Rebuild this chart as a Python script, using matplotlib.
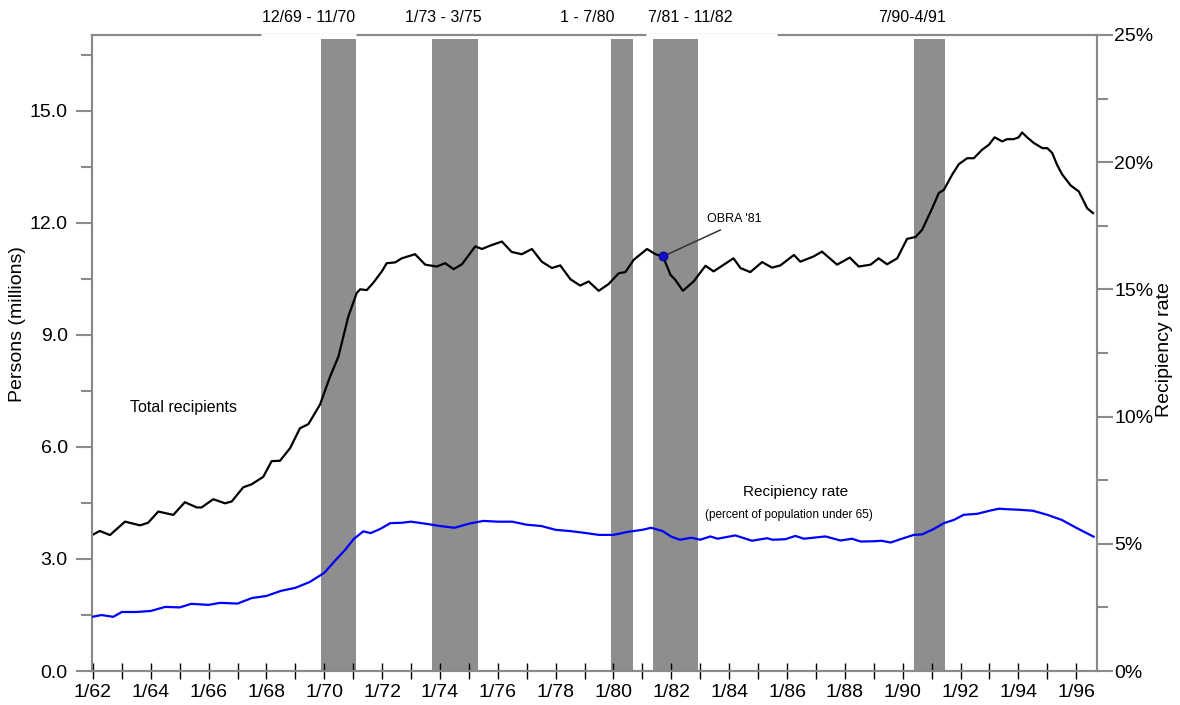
import numpy as np
import matplotlib
matplotlib.use("Agg")
import matplotlib.pyplot as plt
from matplotlib.ticker import MultipleLocator, FuncFormatter

plt.rcParams['font.family'] = ['Liberation Sans', 'DejaVu Sans']

# ── data ──────────────────────────────────────────────────────────────────
# total AFDC recipients, millions
total_years = [1961.97, 1962.24, 1962.59, 1963.11, 1963.63, 1963.91, 1964.26,
               1964.78, 1965.18, 1965.59, 1965.76, 1966.16, 1966.57, 1966.80,
               1967.20, 1967.49, 1967.89, 1968.18, 1968.47, 1968.82, 1969.16,
               1969.45, 1969.85, 1970.20, 1970.49, 1970.83, 1971.12, 1971.24,
               1971.47, 1971.70, 1971.99, 1972.16, 1972.45, 1972.68, 1973.14,
               1973.49, 1973.89, 1974.18, 1974.47, 1974.76, 1975.22, 1975.45,
               1975.74, 1976.14, 1976.48, 1976.83, 1977.18, 1977.52, 1977.87,
               1978.16, 1978.51, 1978.85, 1979.14, 1979.49, 1979.83, 1980.18,
               1980.41, 1980.70, 1981.16, 1981.45, 1981.71, 1981.97, 1982.14,
               1982.40, 1982.77, 1983.18, 1983.46, 1984.15, 1984.39, 1984.73,
               1985.14, 1985.48, 1985.77, 1986.24, 1986.46, 1986.92, 1987.21,
               1987.73, 1988.17, 1988.48, 1988.89, 1989.17, 1989.46, 1989.81,
               1990.15, 1990.44, 1990.67, 1991.02, 1991.25, 1991.42, 1991.71,
               1991.94, 1992.23, 1992.46, 1992.75, 1992.98, 1993.18, 1993.44,
               1993.61, 1993.84, 1994.01, 1994.13, 1994.30, 1994.53, 1994.83,
               1995.00, 1995.17, 1995.34, 1995.51, 1995.81, 1996.09, 1996.38,
               1996.58]
total_recip = [3.64, 3.75, 3.64, 4.00, 3.90, 3.97, 4.27,
               4.18, 4.52, 4.38, 4.38, 4.60, 4.49, 4.54,
               4.92, 5.00, 5.20, 5.62, 5.63, 5.97, 6.50,
               6.61, 7.13, 7.88, 8.42, 9.49, 10.12, 10.22,
               10.20, 10.40, 10.70, 10.92, 10.94, 11.05, 11.16,
               10.88, 10.83, 10.92, 10.76, 10.89, 11.37, 11.30,
               11.39, 11.50, 11.22, 11.16, 11.30, 10.96, 10.79,
               10.86, 10.49, 10.32, 10.43, 10.18, 10.36, 10.65,
               10.68, 11.01, 11.30, 11.16, 11.10, 10.61, 10.47,
               10.18, 10.43, 10.85, 10.70, 11.05, 10.79, 10.68,
               10.95, 10.80, 10.86, 11.14, 10.96, 11.10, 11.23,
               10.88, 11.07, 10.83, 10.88, 11.05, 10.89, 11.05,
               11.57, 11.62, 11.81, 12.39, 12.80, 12.88, 13.29,
               13.57, 13.73, 13.73, 13.96, 14.09, 14.29, 14.18,
               14.24, 14.24, 14.29, 14.42, 14.29, 14.14, 14.00,
               14.00, 13.87, 13.55, 13.30, 13.00, 12.84, 12.39,
               12.26]

# recipiency rate, percent of population under 65
rate_years = [1961.97, 1962.30, 1962.70, 1963.00, 1963.50, 1964.00, 1964.50,
              1965.00, 1965.40, 1966.00, 1966.40, 1967.00, 1967.50, 1968.00,
              1968.50, 1969.00, 1969.50, 1970.00, 1970.40, 1970.72, 1971.01,
              1971.35, 1971.60, 1971.93, 1972.28, 1972.70, 1973.00, 1973.50,
              1974.00, 1974.50, 1975.00, 1975.50, 1976.00, 1976.50, 1977.00,
              1977.50, 1978.00, 1978.50, 1979.00, 1979.50, 1980.00, 1980.50,
              1981.00, 1981.30, 1981.70, 1982.00, 1982.30, 1982.70, 1983.00,
              1983.35, 1983.60, 1984.21, 1984.79, 1985.31, 1985.50, 1985.94,
              1986.29, 1986.58, 1987.33, 1987.85, 1988.25, 1988.54, 1989.00,
              1989.27, 1989.58, 1989.92, 1990.38, 1990.67, 1991.07, 1991.42,
              1991.77, 1992.11, 1992.58, 1993.04, 1993.33, 1993.60, 1994.00,
              1994.50, 1995.00, 1995.50, 1996.00, 1996.60]
rate_pct = [2.13, 2.20, 2.13, 2.32, 2.32, 2.36, 2.52,
            2.50, 2.64, 2.60, 2.68, 2.65, 2.87, 2.95,
            3.15, 3.27, 3.50, 3.86, 4.37, 4.76, 5.18,
            5.49, 5.42, 5.58, 5.81, 5.83, 5.87, 5.79,
            5.70, 5.63, 5.79, 5.90, 5.87, 5.87, 5.75,
            5.70, 5.55, 5.50, 5.43, 5.35, 5.35, 5.47,
            5.55, 5.63, 5.50, 5.28, 5.16, 5.24, 5.16,
            5.29, 5.20, 5.33, 5.12, 5.22, 5.16, 5.18,
            5.31, 5.20, 5.29, 5.13, 5.20, 5.09, 5.10,
            5.12, 5.05, 5.18, 5.35, 5.37, 5.58, 5.81,
            5.94, 6.14, 6.18, 6.31, 6.38, 6.36, 6.34,
            6.30, 6.14, 5.94, 5.63, 5.28]

# recessions (decimal years, as drawn) and their labels
rec_start = [1969.88, 1973.71, 1979.91, 1981.37, 1990.38]
rec_end   = [1971.08, 1975.33, 1980.68, 1982.92, 1991.45]
rec_label = ['12/69 - 11/70', '1/73 - 3/75', '1 - 7/80', '7/81 - 11/82', '7/90-4/91']
rec_label_x = [1967.85, 1972.80, 1978.16, 1981.20, 1989.16]

obra_year, obra_value = 1981.71, 11.10

x_tick_years = list(range(1962, 1997, 2))
x_tick_labels = [f'1/{y % 100:02d}' for y in x_tick_years]

# ── style ──────────────────────────────────────────────────────────────────
SPINE = '#8a8a8a'
BAND = '#8e8e8e'
# stretches of the top frame that the label boxes blank out
TOP_GAPS = [(1967.80, 1971.10), (1981.12, 1985.67)]

fig = plt.figure(figsize=(11.8, 7.05), dpi=100)
ax = fig.add_axes([0.078, 0.0482, 0.8517, 0.9022])
ax2 = ax.twinx()

for s, e in zip(rec_start, rec_end):
    ax.axvspan(s, e, ymax=0.994, color=BAND, lw=0, zorder=1)

ax.plot(total_years, total_recip, color='black', lw=1.6, zorder=3)
ax2.plot(rate_years, rate_pct, color='#0000ff', lw=1.6, zorder=3)

# OBRA marker
ax.plot([obra_year], [obra_value], 'o', ms=6.5, color='#1010c8',
        mec='#000080', mew=0.6, zorder=5)
ax.annotate('', xy=(obra_year, obra_value), xytext=(1983.70, 11.81),
            arrowprops=dict(arrowstyle='-', color='#333333', lw=1.1,
                            shrinkA=0, shrinkB=0), zorder=4)
ax.text(1983.25, 11.93, "OBRA '81", fontsize=9, ha='left', va='bottom')

ax.text(1963.28, 7.05, 'Total recipients', fontsize=11.5, ha='left', va='center')
ax.text(1986.29, 4.80, 'Recipiency rate', fontsize=11, ha='center', va='center')
ax.text(1986.08, 4.18, '(percent of population under 65)', fontsize=8.5,
        ha='center', va='center')

for lbl, xl in zip(rec_label, rec_label_x):
    ax2.text(xl, 1.027, lbl, transform=ax.get_xaxis_transform(), fontsize=11.5,
             ha='left', va='center', clip_on=False)

for g0, g1 in TOP_GAPS:
    ax2.plot([g0, g1], [1, 1], transform=ax.get_xaxis_transform(),
             color='white', lw=2.5, solid_capstyle='butt', clip_on=False,
             zorder=10)

# axes limits / ticks
ax.set_xlim(1961.97, 1996.72)
ax.set_ylim(0, 17.03)
ax2.set_ylim(0, 25)

ax.set_xticks(x_tick_years)
ax.set_xticklabels(x_tick_labels)
ax.xaxis.set_minor_locator(MultipleLocator(1))
ax.tick_params(axis='x', which='both', direction='inout', color='black',
               width=1.0, labelsize=14, pad=3)
ax.tick_params(axis='x', which='major', length=12)
ax.tick_params(axis='x', which='minor', length=11)

ax.yaxis.set_major_locator(MultipleLocator(3))
ax.yaxis.set_minor_locator(MultipleLocator(1.5))
ax.yaxis.set_major_formatter(FuncFormatter(lambda v, p: f'{v:.1f}'))
ax.tick_params(axis='y', which='both', direction='out', color=SPINE,
               width=1.5, labelsize=14, pad=6)
ax.tick_params(axis='y', which='major', length=11.5)
ax.tick_params(axis='y', which='minor', length=8)

ax2.yaxis.set_major_locator(MultipleLocator(5))
ax2.yaxis.set_minor_locator(MultipleLocator(2.5))
ax2.yaxis.set_major_formatter(FuncFormatter(lambda v, p: f'{v:.0f}%'))
ax2.tick_params(axis='y', which='both', direction='out', color=SPINE,
                width=1.5, labelsize=14, pad=1)
ax2.tick_params(axis='y', which='major', length=11.5)
ax2.tick_params(axis='y', which='minor', length=8)

for a in (ax, ax2):
    for sp in a.spines.values():
        sp.set_color(SPINE)
        sp.set_linewidth(1.5)

ax.set_ylabel('Persons (millions)', fontsize=14)
ax.yaxis.set_label_coords(-0.0655, 0.545)
ax2.set_ylabel('Recipiency rate', fontsize=14)
ax2.yaxis.set_label_coords(1.0585, 0.505)

fig.savefig('out.png', dpi=100)
